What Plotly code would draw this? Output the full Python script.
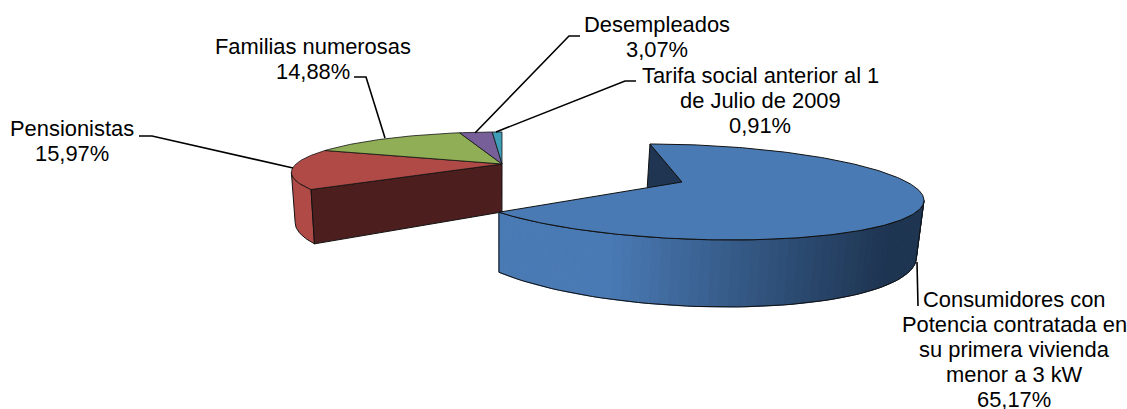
import numpy as np
import plotly.graph_objects as go

# Shares of the pie, clockwise from the top.
names = [
    ["Consumidores con", "Potencia contratada en", "su primera vivienda", "menor a 3 kW"],
    ["Pensionistas"],
    ["Familias numerosas"],
    ["Desempleados"],
    ["Tarifa social anterior al 1", "de Julio de 2009"],
]
shares = [65.17, 15.97, 14.88, 3.07, 0.91]
colors = ["#4A7AB4", "#B04A46", "#8FAE55", "#77609A", "#3F9DB8"]

FONT = "Liberation Sans"
FONT_SIZE = 21.9
LINE_STEP = 25.2

# Perspective projection of the two pieces of the pie, in screen pixels.
BLUE = dict(cx=682, cy=182, a=225, b=45.9, s=-38.7, k=0.208)
REST = dict(cx=502, cy=164, a=206, b=38.7, s=0, k=0.208)
VANISH_X = 500


def top(theta, cx, cy, a, b, s, k):
    t = np.radians(theta)
    u, v = np.sin(t), np.cos(t)
    w = 1 + k * v
    return cx + (a * u + s * v) / w, cy - b * v / w


def bottom(x, y):
    return VANISH_X + (x - VANISH_X) * 0.982, y + 48 + 0.25 * (y - 164)


def arc(start, end, pie):
    theta = np.linspace(start, end, max(int(abs(end - start)), 2) + 1)
    return top(theta, **pie)


def poly(fig, x, y, fill, line="#111111", width=1):
    fig.add_scatter(
        x=list(x), y=list(y), mode="lines", fill="toself", fillcolor=fill,
        line=dict(color=line, width=width), hoverinfo="skip", showlegend=False,
    )


def blue_side(x):
    t = np.clip((x - 610) / (890 - 610), 0, 1)
    c0, c1 = np.array([74, 122, 180]), np.array([30, 53, 82])
    r, g, b = (c0 + (c1 - c0) * t).astype(int)
    return f"rgb({r},{g},{b})"


edges = np.concatenate([[0], np.cumsum(shares) * 3.6])
fig = go.Figure()

# Left piece: outer red wall, dark cut face, then the top slices.
ax, ay = arc(edges[1], 258, REST)
bx, by = bottom(ax, ay)
poly(fig, np.r_[ax, bx[::-1], ax[0]], np.r_[ay, by[::-1], ay[0]], colors[1])

cx0, cy0 = top(edges[1], **REST)
px, py = REST["cx"], REST["cy"]
qx, qy = bottom(px, py)
rx, ry = bottom(cx0, cy0)
poly(fig, [px, cx0, rx, qx, px], [py, cy0, ry, qy, py], "#4C1F1E")

for i in range(1, 5):
    ax, ay = arc(edges[i], edges[i + 1], REST)
    poly(fig, np.r_[px, ax, px], np.r_[py, ay, py], colors[i], width=0.8)

# Blue piece: inner cut face, shaded outer wall, then the top.
sx, sy = top(0, **BLUE)
px, py = BLUE["cx"], BLUE["cy"]
qx, qy = bottom(px, py)
rx, ry = bottom(sx, sy)
poly(fig, [sx, px, qx, rx, sx], [sy, py, qy, ry, sy], "#1F3552")

wall = np.arange(112, edges[1] + 2, 2.0)
wall[-1] = edges[1]
ax, ay = top(wall, **BLUE)
bx, by = bottom(ax, ay)
for i in range(len(wall) - 1):
    col = blue_side((ax[i] + ax[i + 1]) / 2)
    poly(fig, [ax[i], ax[i + 1], bx[i + 1], bx[i], ax[i]],
         [ay[i], ay[i + 1], by[i + 1], by[i], ay[i]], col, line=col, width=1)
fig.add_scatter(
    x=np.r_[ax, bx[::-1], ax[0]], y=np.r_[ay, by[::-1], ay[0]], mode="lines",
    line=dict(color="#111111", width=1), hoverinfo="skip", showlegend=False,
)

ax, ay = arc(edges[0], edges[1], BLUE)
poly(fig, np.r_[px, ax, px], np.r_[py, ay, py], colors[0], width=1)

# Leader lines from the labels to the slices.
leaders = [
    ([917, 918], [262, 306]),
    ([139, 152, 293], [136, 136, 168]),
    ([354, 366, 385], [77, 77, 138]),
    ([580, 569, 475], [36, 36, 133]),
    ([636, 625, 496], [81, 81, 132]),
]
for lx, ly in leaders:
    fig.add_scatter(x=lx, y=ly, mode="lines", line=dict(color="#000000", width=1.6),
                    hoverinfo="skip", showlegend=False)

# Labels, one annotation per line to control the line spacing.
label_pos = [(1014, 299), (72, 128), (313, 46), (657, 24), (760, 75)]
for i, (tx, ty) in enumerate(label_pos):
    lines = names[i] + [f"{shares[i]:.2f}%".replace(".", ",")]
    for j, line in enumerate(lines):
        fig.add_annotation(
            x=tx, y=ty + j * LINE_STEP, text=line, showarrow=False,
            xanchor="center", yanchor="middle",
            font=dict(family=FONT, size=FONT_SIZE, color="#000000"),
        )

fig.update_xaxes(range=[0, 1127], visible=False)
fig.update_yaxes(range=[409, 0], visible=False)
fig.update_layout(
    width=1127, height=409, margin=dict(l=0, r=0, t=0, b=0),
    plot_bgcolor="white", paper_bgcolor="white", showlegend=False,
)

fig.write_html("out.html", config=dict(displayModeBar=False),
               post_script="document.body.style.margin='0'")
